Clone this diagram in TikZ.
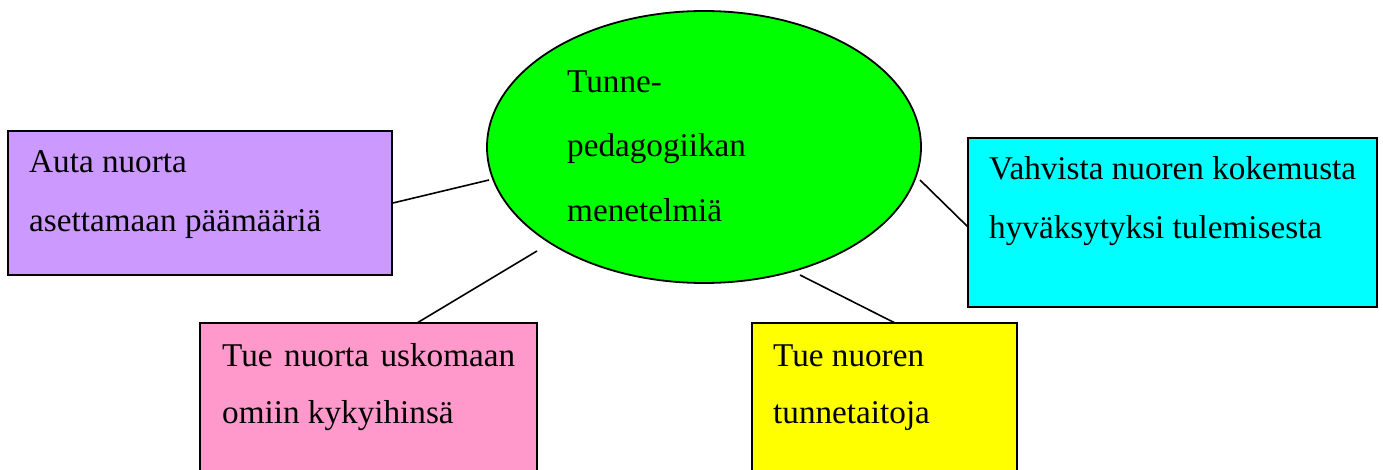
\documentclass[tikz,border=0pt]{standalone}
\usepackage{fontspec}
\setmainfont{Liberation Serif}
\usetikzlibrary{shapes.geometric}
\definecolor{cpurple}{HTML}{CC99FF}
\definecolor{cgreen}{HTML}{00FF00}
\definecolor{ccyan}{HTML}{00FFFF}
\definecolor{cpink}{HTML}{FF99CC}
\definecolor{cyellow}{HTML}{FFFF00}
\tikzset{
  box/.style={draw=black, line width=1.8pt, rectangle, inner sep=0pt},
  txt/.style={anchor=base west, inner sep=0pt, font=\fontsize{33.2}{40}\selectfont},
  conn/.style={draw=black, line width=1.6pt},
}
\begin{document}
\begin{tikzpicture}[x=1pt,y=-1pt]
\useasboundingbox (0,0) rectangle (1383,470);
\clip (0,0) rectangle (1383,470);
% center ellipse
\node[ellipse, draw=black, line width=1.8pt, fill=cgreen, minimum width=434pt, minimum height=272pt, inner sep=0pt] (ell) at (704,147) {};
\node[txt] (e1) at (567,93) {Tunne-};
\node[txt] (e2) at (567,157) {pedagogiikan};
\node[txt] (e3) at (567,222) {menetelmiä};
% boxes
\node[box, fill=cpurple, minimum width=384pt, minimum height=144pt] (purple) at (200,203) {};
\node[txt] (p1) at (29,173) {Auta nuorta};
\node[txt] (p2) at (29,232) {asettamaan päämääriä};
\node[box, fill=ccyan, minimum width=409pt, minimum height=169pt] (cyan) at (1172.5,222.5) {};
\node[txt] (c1) at (989,180) {Vahvista nuoren kokemusta};
\node[txt] (c2) at (989,239) {hyväksytyksi tulemisesta};
\node[box, fill=cpink, minimum width=337pt, minimum height=180pt] (pink) at (368.5,413) {};
\node[txt] (k1) at (222,366) {\makebox[293pt][s]{Tue nuorta uskomaan}};
\node[txt] (k2) at (222,423) {omiin kykyihinsä};
\node[box, fill=cyellow, minimum width=265pt, minimum height=180pt] (yellow) at (884.5,413) {};
\node[txt] (y1) at (773,366) {Tue nuoren};
\node[txt] (y2) at (773,423) {tunnetaitoja};
% connector end points
\coordinate (a1) at (489,180);
\coordinate (b0) at (417,323);
\coordinate (b1) at (537,251);
\coordinate (d0) at (800,275);
\coordinate (d1) at (895,323);
\coordinate (f0) at (920,180);
\coordinate (f1) at (968,227);
\draw[conn] (purple.east) -- (a1);
\draw[conn] (b0) -- (b1);
\draw[conn] (d0) -- (d1);
\draw[conn] (f0) -- (f1);
\end{tikzpicture}
\end{document}
